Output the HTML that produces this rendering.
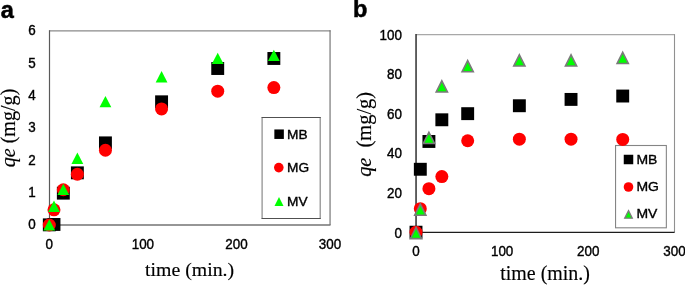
<!DOCTYPE html>
<html lang="en"><head><meta charset="utf-8"><title>qe vs time</title>
<style>html,body{margin:0;padding:0;background:#fff;overflow:hidden}svg{display:block}.t{font-family:"Liberation Sans",sans-serif;fill:#000;stroke:#000;stroke-width:.4px}.s{font-family:"Liberation Serif",serif;fill:#000;stroke:#000;stroke-width:.15px}</style></head><body>
<svg width="685" height="285" viewBox="0 0 685 285">
<rect width="685" height="285" fill="#fff"/>
<g id="panel-a">
<path d="M49.5 30.8 H330.5" fill="none" stroke="#8a8a8a" stroke-width="1.2"/>
<path d="M330.05 30.2 V225" fill="none" stroke="#6a6a6a" stroke-width="1.1"/>
<path d="M49.5 30.2 V225" fill="none" stroke="#5a5a5a" stroke-width="1.2"/>
<path d="M48.9 225 H330.5" fill="none" stroke="#737373" stroke-width="1.35"/>
<text class="t" transform="translate(0.80,17.70) scale(0.97,1)" font-size="24.3" text-anchor="start" font-weight="bold" style="stroke-width:.5px">a</text>
<text class="t" transform="translate(35.60,229.20) scale(0.92,1)" font-size="14.6" text-anchor="end">0</text>
<text class="t" transform="translate(35.60,196.87) scale(0.92,1)" font-size="14.6" text-anchor="end">1</text>
<text class="t" transform="translate(35.60,164.53) scale(0.92,1)" font-size="14.6" text-anchor="end">2</text>
<text class="t" transform="translate(35.60,132.20) scale(0.92,1)" font-size="14.6" text-anchor="end">3</text>
<text class="t" transform="translate(35.60,99.87) scale(0.92,1)" font-size="14.6" text-anchor="end">4</text>
<text class="t" transform="translate(35.60,67.53) scale(0.92,1)" font-size="14.6" text-anchor="end">5</text>
<text class="t" transform="translate(35.60,35.20) scale(0.92,1)" font-size="14.6" text-anchor="end">6</text>
<text class="t" transform="translate(49.30,248.70) scale(0.92,1)" font-size="14.6" text-anchor="middle">0</text>
<text class="t" transform="translate(142.87,248.70) scale(0.92,1)" font-size="14.6" text-anchor="middle">100</text>
<text class="t" transform="translate(236.43,248.70) scale(0.92,1)" font-size="14.6" text-anchor="middle">200</text>
<text class="t" transform="translate(330.00,248.70) scale(0.92,1)" font-size="14.6" text-anchor="middle">300</text>
<text class="s" transform="translate(189.60,276.40)" font-size="19.8" text-anchor="middle">time (min.)</text>
<text class="s" transform="translate(15.20,128.00) rotate(-90)" font-size="20.1" text-anchor="middle"><tspan font-style="italic">qe</tspan> (mg/g)</text>
<rect x="42.85" y="218.39" width="12.90" height="12.90" fill="#000"/>
<rect x="47.53" y="218.00" width="12.90" height="12.90" fill="#000"/>
<rect x="56.88" y="186.70" width="12.90" height="12.90" fill="#000"/>
<rect x="70.92" y="166.40" width="12.90" height="12.90" fill="#000"/>
<rect x="98.99" y="136.42" width="12.90" height="12.90" fill="#000"/>
<rect x="155.13" y="95.36" width="12.90" height="12.90" fill="#000"/>
<rect x="211.27" y="62.06" width="12.90" height="12.90" fill="#000"/>
<rect x="267.41" y="52.03" width="12.90" height="12.90" fill="#000"/>
<circle cx="49.30" cy="225.00" r="6.50" fill="#f00"/>
<circle cx="53.98" cy="209.80" r="6.50" fill="#f00"/>
<circle cx="63.33" cy="189.76" r="6.50" fill="#f00"/>
<circle cx="77.37" cy="174.24" r="6.50" fill="#f00"/>
<circle cx="105.44" cy="150.25" r="6.50" fill="#f00"/>
<circle cx="161.58" cy="108.92" r="6.50" fill="#f00"/>
<circle cx="217.72" cy="91.14" r="6.50" fill="#f00"/>
<circle cx="273.86" cy="87.58" r="6.50" fill="#f00"/>
<polygon points="49.30,219.20 55.20,230.50 43.40,230.50" fill="#0f0"/>
<polygon points="53.98,200.61 59.88,211.91 48.08,211.91" fill="#0f0"/>
<polygon points="63.33,183.63 69.23,194.93 57.43,194.93" fill="#0f0"/>
<polygon points="77.37,152.59 83.27,163.89 71.47,163.89" fill="#0f0"/>
<polygon points="105.44,96.01 111.34,107.31 99.54,107.31" fill="#0f0"/>
<polygon points="161.58,71.11 167.48,82.41 155.68,82.41" fill="#0f0"/>
<polygon points="217.72,52.68 223.62,63.98 211.82,63.98" fill="#0f0"/>
<polygon points="273.86,49.77 279.76,61.07 267.96,61.07" fill="#0f0"/>
<rect x="262.1" y="117.5" width="58.2" height="101" fill="#fff"/>
<path d="M262.1 117.5 V218.5 M320.2 117.5 V218.5" fill="none" stroke="#8a8a8a" stroke-width="1.2"/>
<path d="M261.5 117.5 H320.8 M261.5 218.5 H320.8" fill="none" stroke="#505050" stroke-width="1"/>
<rect x="274.35" y="129.45" width="9.50" height="9.50" fill="#000"/>
<circle cx="278.80" cy="167.60" r="4.80" fill="#f00"/>
<polygon points="279.00,197.00 283.50,206.00 274.50,206.00" fill="#0f0"/>
<text class="t" transform="translate(287.00,138.60) scale(1.07,1)" font-size="12.8" text-anchor="start" style="stroke-width:.35px">MB</text>
<text class="t" transform="translate(287.00,172.00) scale(1.07,1)" font-size="12.8" text-anchor="start" style="stroke-width:.35px">MG</text>
<text class="t" transform="translate(287.00,205.60) scale(1.07,1)" font-size="12.8" text-anchor="start" style="stroke-width:.35px">MV</text>
</g>
<g id="panel-b">
<path d="M416 34.7 H674.5" fill="none" stroke="#a8a8a8" stroke-width="1.2"/>
<path d="M674.5 34.1 V232.3" fill="none" stroke="#909090" stroke-width="1.1"/>
<path d="M416.05 34 V232.3" fill="none" stroke="#3c3c3c" stroke-width="1.6"/>
<path d="M415.3 232.4 H674.6" fill="none" stroke="#1c1c1c" stroke-width="1.3"/>
<text class="t" transform="translate(353.10,17.00) scale(0.97,1)" font-size="24.3" text-anchor="start" font-weight="bold" style="stroke-width:.5px">b</text>
<text class="t" transform="translate(402.00,237.60) scale(0.92,1)" font-size="14.6" text-anchor="end">0</text>
<text class="t" transform="translate(402.00,198.02) scale(0.92,1)" font-size="14.6" text-anchor="end">20</text>
<text class="t" transform="translate(402.00,158.44) scale(0.92,1)" font-size="14.6" text-anchor="end">40</text>
<text class="t" transform="translate(402.00,118.86) scale(0.92,1)" font-size="14.6" text-anchor="end">60</text>
<text class="t" transform="translate(402.00,79.28) scale(0.92,1)" font-size="14.6" text-anchor="end">80</text>
<text class="t" transform="translate(402.00,39.70) scale(0.92,1)" font-size="14.6" text-anchor="end">100</text>
<text class="t" transform="translate(416.00,255.80) scale(0.92,1)" font-size="14.6" text-anchor="middle">0</text>
<text class="t" transform="translate(502.13,255.80) scale(0.92,1)" font-size="14.6" text-anchor="middle">100</text>
<text class="t" transform="translate(588.27,255.80) scale(0.92,1)" font-size="14.6" text-anchor="middle">200</text>
<text class="t" transform="translate(674.40,255.80) scale(0.92,1)" font-size="14.6" text-anchor="middle">300</text>
<text class="s" transform="translate(545.10,280.20)" font-size="19.95" text-anchor="middle">time (min.)</text>
<text class="s" transform="translate(370.50,134.40) rotate(-90)" font-size="20.4" text-anchor="middle"><tspan font-style="italic">qe</tspan>&#160; (mg/g)</text>
<rect x="615.55" y="145.5" width="50.8" height="82.3" fill="#fff" stroke="#858585" stroke-width="1.1"/>
<rect x="409.55" y="225.75" width="12.90" height="12.90" fill="#000"/>
<rect x="413.86" y="162.82" width="12.90" height="12.90" fill="#000"/>
<rect x="422.47" y="135.01" width="12.90" height="12.90" fill="#000"/>
<rect x="435.39" y="113.34" width="12.90" height="12.90" fill="#000"/>
<rect x="461.23" y="107.21" width="12.90" height="12.90" fill="#000"/>
<rect x="512.91" y="99.29" width="12.90" height="12.90" fill="#000"/>
<rect x="564.59" y="92.96" width="12.90" height="12.90" fill="#000"/>
<rect x="616.27" y="89.59" width="12.90" height="12.90" fill="#000"/>
<circle cx="416.00" cy="232.20" r="6.50" fill="#f00"/>
<circle cx="420.31" cy="208.65" r="6.50" fill="#f00"/>
<circle cx="428.92" cy="188.66" r="6.50" fill="#f00"/>
<circle cx="441.84" cy="176.59" r="6.50" fill="#f00"/>
<circle cx="467.68" cy="140.77" r="6.50" fill="#f00"/>
<circle cx="519.36" cy="139.19" r="6.50" fill="#f00"/>
<circle cx="571.04" cy="139.19" r="6.50" fill="#f00"/>
<circle cx="622.72" cy="139.38" r="6.50" fill="#f00"/>
<polygon points="416.00,227.47 421.60,238.62 410.40,238.62" fill="#0f0" stroke="#7a7a7a" stroke-width="1.6" stroke-linejoin="miter"/>
<polygon points="420.31,204.12 425.91,215.27 414.71,215.27" fill="#0f0" stroke="#7a7a7a" stroke-width="1.6" stroke-linejoin="miter"/>
<polygon points="428.92,132.28 434.52,143.43 423.32,143.43" fill="#0f0" stroke="#7a7a7a" stroke-width="1.6" stroke-linejoin="miter"/>
<polygon points="441.84,80.82 447.44,91.97 436.24,91.97" fill="#0f0" stroke="#7a7a7a" stroke-width="1.6" stroke-linejoin="miter"/>
<polygon points="467.68,60.64 473.28,71.79 462.08,71.79" fill="#0f0" stroke="#7a7a7a" stroke-width="1.6" stroke-linejoin="miter"/>
<polygon points="519.36,54.90 524.96,66.05 513.76,66.05" fill="#0f0" stroke="#7a7a7a" stroke-width="1.6" stroke-linejoin="miter"/>
<polygon points="571.04,54.90 576.64,66.05 565.44,66.05" fill="#0f0" stroke="#7a7a7a" stroke-width="1.6" stroke-linejoin="miter"/>
<polygon points="622.72,52.33 628.32,63.48 617.12,63.48" fill="#0f0" stroke="#7a7a7a" stroke-width="1.6" stroke-linejoin="miter"/>
<rect x="623.75" y="154.75" width="9.50" height="9.50" fill="#000"/>
<circle cx="628.50" cy="187.00" r="4.80" fill="#f00"/>
<polygon points="628.50,210.60 632.30,218.20 624.70,218.20" fill="#0f0" stroke="#7a7a7a" stroke-width="1.3" stroke-linejoin="miter"/>
<text class="t" transform="translate(636.40,163.80) scale(1.05,1)" font-size="13.3" text-anchor="start" style="stroke-width:.35px">MB</text>
<text class="t" transform="translate(636.40,191.40) scale(1.05,1)" font-size="13.3" text-anchor="start" style="stroke-width:.35px">MG</text>
<text class="t" transform="translate(636.40,218.40) scale(1.05,1)" font-size="13.3" text-anchor="start" style="stroke-width:.35px">MV</text>
</g>
</svg></body></html>
